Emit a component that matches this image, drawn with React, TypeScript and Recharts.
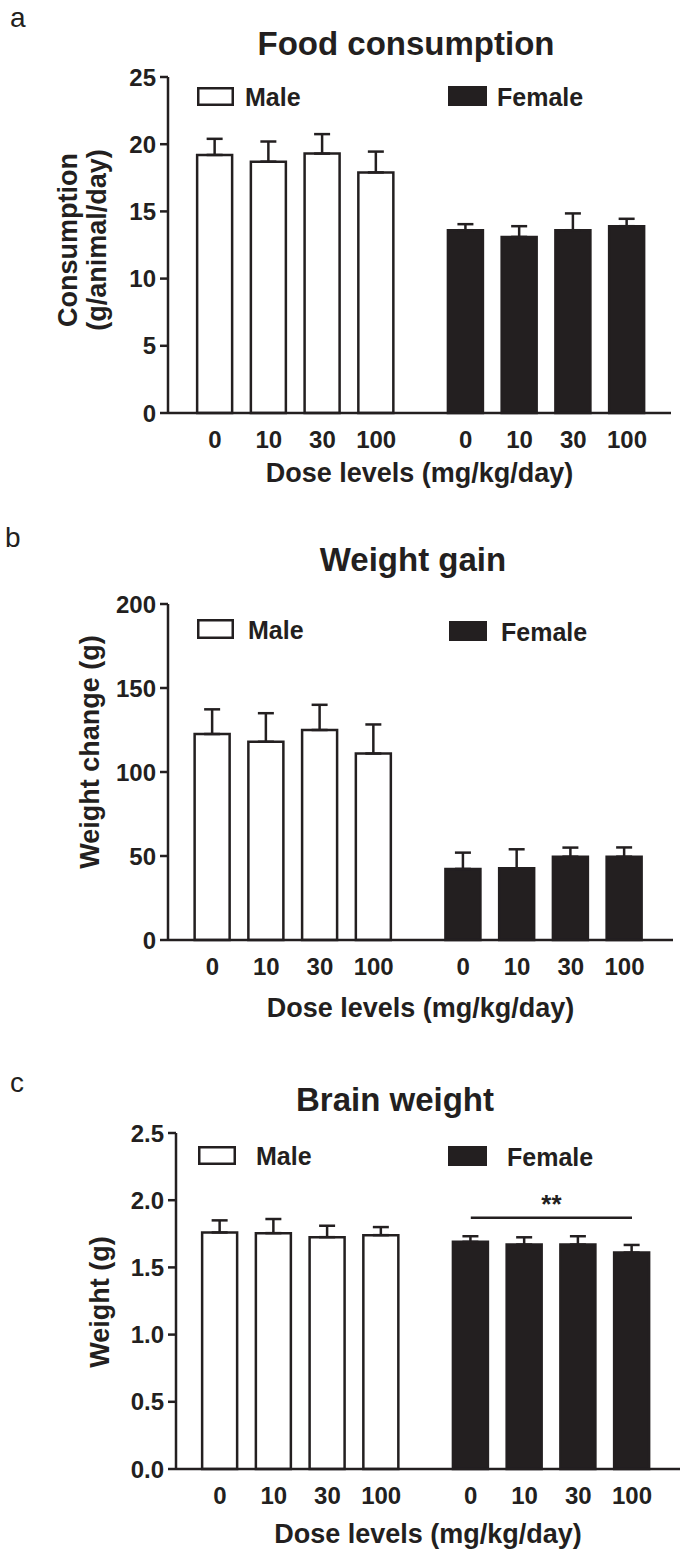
import React from 'react';
import { BarChart, Bar, XAxis, YAxis, ErrorBar, Cell, ReferenceLine } from 'recharts';

// ---------- data ----------
const doseLabels = ['0', '10', '30', '100'];
const sexes = ['Male', 'Female'];

const foodMaleMean = [19.2, 18.7, 19.3, 17.9];
const foodMaleSem = [1.2, 1.5, 1.45, 1.55];
const foodFemaleMean = [13.6, 13.1, 13.6, 13.9];
const foodFemaleSem = [0.45, 0.8, 1.25, 0.55];

const gainMaleMean = [122.6, 118, 125, 111];
const gainMaleSem = [14.7, 17, 15, 17.3];
const gainFemaleMean = [42.3, 42.7, 49.6, 49.6];
const gainFemaleSem = [9.7, 11.3, 5.4, 5.5];

const brainMaleMean = [1.76, 1.755, 1.725, 1.74];
const brainMaleSem = [0.09, 0.105, 0.085, 0.06];
const brainFemaleMean = [1.69, 1.67, 1.67, 1.61];
const brainFemaleSem = [0.042, 0.054, 0.062, 0.057];

const foodTicks = [0, 5, 10, 15, 20, 25];
const gainTicks = [0, 50, 100, 150, 200];
const brainTicks = [0, 0.5, 1.0, 1.5, 2.0, 2.5];

const brainSigLevel = 1.87;
const brainSigText = '**';

// ---------- helpers ----------
const INK = '#231f20';
const FONT = "'Liberation Sans', Arial, Helvetica, sans-serif";
const GROUP_GAP = 0.667;

type Row = { pos: number; dose: string; sex: string; mean: number; err: [number, number] };

function buildRows(mMean: number[], mSem: number[], fMean: number[], fSem: number[]): Row[] {
  const rows: Row[] = [];
  doseLabels.forEach((d, i) => rows.push({ pos: i, dose: d, sex: sexes[0], mean: mMean[i], err: [0, mSem[i]] }));
  doseLabels.forEach((d, i) =>
    rows.push({ pos: doseLabels.length + GROUP_GAP + i, dose: d, sex: sexes[1], mean: fMean[i], err: [0, fSem[i]] })
  );
  return rows;
}

const foodRows = buildRows(foodMaleMean, foodMaleSem, foodFemaleMean, foodFemaleSem);
const gainRows = buildRows(gainMaleMean, gainMaleSem, gainFemaleMean, gainFemaleSem);
const brainRows = buildRows(brainMaleMean, brainMaleSem, brainFemaleMean, brainFemaleSem);

type Geom = {
  top: number; height: number;
  plotLeft: number; plotTop: number; plotRight: number; plotBottom: number;
  padL: number; padR: number;
  titleX: number; titleY: number;
  letterX: number; letterY: number;
  maleBox: [number, number, number, number]; maleText: [number, number];
  femBox: [number, number, number, number]; femText: [number, number];
  yLabelX: number[]; yLabelCY: number;
  xTitleOffset: number;
};

const geomA: Geom = {
  top: 0, height: 512,
  plotLeft: 168, plotTop: 77, plotRight: 671, plotBottom: 413,
  padL: 47, padR: 44,
  titleX: 406, titleY: 55, letterX: 10, letterY: 27,
  maleBox: [197, 87, 37, 19], maleText: [245, 106],
  femBox: [448, 86, 39, 20], femText: [497, 106],
  yLabelX: [77, 106], yLabelCY: 240,
  xTitleOffset: 69,
};
const geomB: Geom = {
  top: 512, height: 520,
  plotLeft: 168, plotTop: 604, plotRight: 673, plotBottom: 940,
  padL: 44.5, padR: 48.5,
  titleX: 413, titleY: 571, letterX: 5, letterY: 547,
  maleBox: [197, 619, 37, 20], maleText: [248, 639],
  femBox: [449, 621, 38, 20], femText: [501, 641],
  yLabelX: [98.5], yLabelCY: 752,
  xTitleOffset: 77,
};
const geomC: Geom = {
  top: 1032, height: 523,
  plotLeft: 176, plotTop: 1133, plotRight: 680, plotBottom: 1469,
  padL: 44, padR: 48,
  titleX: 395, titleY: 1111, letterX: 10, letterY: 1092,
  maleBox: [198, 1146, 38, 19], maleText: [256, 1165],
  femBox: [448, 1146, 39, 20], femText: [507, 1166],
  yLabelX: [109], yLabelCY: 1302,
  xTitleOffset: 74,
};

type PanelProps = {
  g: Geom; rows: Row[]; yTicks: number[]; yFmt?: (v: number) => string;
  title: string; letter: string; yLabel: string[];
  sig?: { level: number; text: string };
};

function Panel({ g, rows, yTicks, yFmt, title, letter, yLabel, sig }: PanelProps) {
  const t = g.top;
  const maxPos = rows[rows.length - 1].pos;
  const xFmt = (v: number) => {
    const r = rows.find((rr) => Math.abs(rr.pos - v) < 1e-6);
    return r ? r.dose : '';
  };
  const femaleRows = rows.filter((r) => r.sex === sexes[1]);
  const tickStyle = { fill: INK, fontSize: 24, fontWeight: 700, fontFamily: FONT };
  const plotCX = (g.plotLeft + g.plotRight) / 2;
  return (
    <div style={{ position: 'absolute', left: 0, top: t, width: 685, height: g.height }}>
      <BarChart
        width={685}
        height={g.height}
        data={rows}
        margin={{ top: g.plotTop - t, right: 685 - g.plotRight, left: 0, bottom: 0 }}
      >
        <XAxis
          type="number"
          dataKey="pos"
          domain={[0, maxPos]}
          ticks={rows.map((r) => r.pos)}
          tickFormatter={xFmt}
          interval={0}
          padding={{ left: g.padL, right: g.padR }}
          height={g.height - (g.plotBottom - t)}
          axisLine={{ stroke: INK, strokeWidth: 2.5 }}
          tickLine={false}
          tickSize={0}
          tickMargin={18}
          tick={tickStyle}
        />
        <YAxis
          type="number"
          domain={[0, yTicks[yTicks.length - 1]]}
          ticks={yTicks}
          tickFormatter={yFmt}
          interval={0}
          width={g.plotLeft}
          axisLine={{ stroke: INK, strokeWidth: 2.5 }}
          tickLine={{ stroke: INK, strokeWidth: 2.5 }}
          tickSize={8}
          tickMargin={4}
          tick={tickStyle}
        />
        <Bar dataKey="mean" barSize={35} stroke={INK} strokeWidth={2.5} isAnimationActive={false}>
          {rows.map((r, i) => (
            <Cell key={i} fill={r.sex === sexes[0] ? '#ffffff' : INK} />
          ))}
          <ErrorBar dataKey="err" width={8} stroke={INK} strokeWidth={2.5} direction="y" isAnimationActive={false} />
        </Bar>
        {sig && (
          <ReferenceLine
            segment={[
              { x: femaleRows[0].pos, y: sig.level },
              { x: femaleRows[femaleRows.length - 1].pos, y: sig.level },
            ]}
            stroke={INK}
            strokeWidth={2.5}
            label={{ value: sig.text, position: 'top', offset: 5, fill: INK, fontSize: 26, fontWeight: 700, fontFamily: FONT }}
          />
        )}
        <text x={g.letterX} y={g.letterY - t} fontSize={28} fontFamily={FONT} fill={INK}>
          {letter}
        </text>
        <text x={g.titleX} y={g.titleY - t} textAnchor="middle" fontSize={33} fontWeight={700} fontFamily={FONT} fill={INK}>
          {title}
        </text>
        {yLabel.map((line, i) => (
          <text
            key={i}
            x={g.yLabelX[i]}
            y={g.yLabelCY - t}
            transform={`rotate(-90 ${g.yLabelX[i]} ${g.yLabelCY - t})`}
            textAnchor="middle"
            fontSize={27}
            fontWeight={700}
            fontFamily={FONT}
            fill={INK}
          >
            {line}
          </text>
        ))}
        <text x={plotCX} y={g.plotBottom + g.xTitleOffset - t} textAnchor="middle" fontSize={27} fontWeight={700} fontFamily={FONT} fill={INK}>
          Dose levels (mg/kg/day)
        </text>
        {/* legend */}
        <rect
          x={g.maleBox[0] + 1.25}
          y={g.maleBox[1] + 1.25 - t}
          width={g.maleBox[2] - 2.5}
          height={g.maleBox[3] - 2.5}
          fill="#ffffff"
          stroke={INK}
          strokeWidth={2.5}
        />
        <text x={g.maleText[0]} y={g.maleText[1] - t} fontSize={25} fontWeight={700} fontFamily={FONT} fill={INK}>
          {sexes[0]}
        </text>
        <rect x={g.femBox[0]} y={g.femBox[1] - t} width={g.femBox[2]} height={g.femBox[3]} fill={INK} />
        <text x={g.femText[0]} y={g.femText[1] - t} fontSize={25} fontWeight={700} fontFamily={FONT} fill={INK}>
          {sexes[1]}
        </text>
      </BarChart>
    </div>
  );
}

export default function App() {
  return (
    <div style={{ position: 'absolute', left: 0, top: 0, width: 685, height: 1555, background: '#ffffff' }}>
      <Panel g={geomA} rows={foodRows} yTicks={foodTicks} title="Food consumption" letter="a" yLabel={['Consumption', '(g/animal/day)']} />
      <Panel g={geomB} rows={gainRows} yTicks={gainTicks} title="Weight gain" letter="b" yLabel={['Weight change (g)']} />
      <Panel
        g={geomC}
        rows={brainRows}
        yTicks={brainTicks}
        yFmt={(v: number) => v.toFixed(1)}
        title="Brain weight"
        letter="c"
        yLabel={['Weight (g)']}
        sig={{ level: brainSigLevel, text: brainSigText }}
      />
    </div>
  );
}
